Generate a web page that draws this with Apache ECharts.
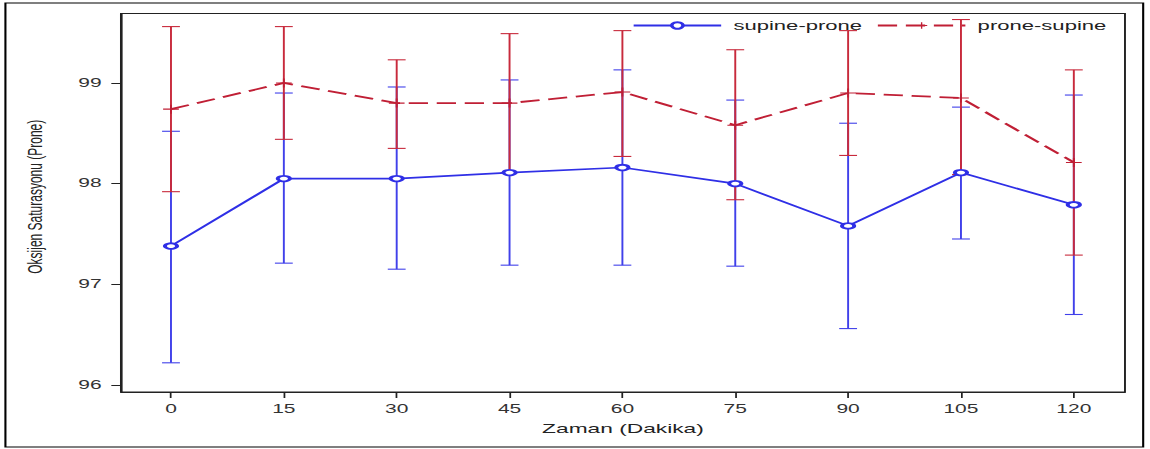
<!DOCTYPE html>
<html>
<head>
<meta charset="utf-8">
<script src="https://cdn.jsdelivr.net/npm/echarts@6/dist/echarts.min.js"></script>
<style>
html,body{margin:0;padding:0;background:#fff;overflow:hidden;width:1150px;height:449px;}
#chart{position:absolute;left:0;top:0;width:657px;height:449px;transform:scaleX(1.7504);transform-origin:0 0;}
</style>
</head>
<body>
<div id="chart"></div>
<script>
// Data
const times = [0, 15, 30, 45, 60, 75, 90, 105, 120];
const tickLabels = [0, 15, 30, 45, 60, 75, 90, 105, 120];
const yTicks = [96, 97, 98, 99];
const spMean = [97.38, 98.05, 98.05, 98.11, 98.16, 98.00, 97.58, 98.11, 97.79];
const spLow  = [96.22, 97.21, 97.15, 97.19, 97.19, 97.18, 96.56, 97.45, 96.70];
const spHigh = [98.52, 98.90, 98.96, 99.03, 99.13, 98.83, 98.60, 98.76, 98.88];
const psMean = [98.74, 99.00, 98.80, 98.80, 98.91, 98.58, 98.90, 98.85, 98.21];
const psLow  = [97.92, 98.44, 98.35, 98.11, 98.27, 97.84, 98.28, 98.09, 97.29];
const psHigh = [99.56, 99.56, 99.23, 99.49, 99.52, 99.33, 99.52, 99.63, 99.13];

const BLUE = '#2f2fe6', BLUE_BAR = '#4040ea';
const RED = '#c01f35', RED_BAR = '#c82a3c';
const FONT = 'Liberation Sans, Arial, sans-serif';

function errRender(color) {
  return function (params, api) {
    const x = api.value(0), lo = api.value(1), hi = api.value(2);
    const p1 = api.coord([x, lo]), p2 = api.coord([x, hi]);
    const w = 5.1;
    const st = {stroke: color, lineWidth: 1.1};
    return {type: 'group', children: [
      {type: 'line', shape: {x1: p1[0], y1: p1[1], x2: p2[0], y2: p2[1]}, style: st},
      {type: 'line', shape: {x1: p1[0] - w, y1: p1[1], x2: p1[0] + w, y2: p1[1]}, style: st},
      {type: 'line', shape: {x1: p2[0] - w, y1: p2[1], x2: p2[0] + w, y2: p2[1]}, style: st}
    ]};
  };
}

const chart = echarts.init(document.getElementById('chart'), null, {renderer: 'svg'});
chart.setOption({
  backgroundColor: '#fff',
  animation: false,
  graphic: [{
    type: 'rect', shape: {x: 3.1, y: 3, width: 650, height: 444},
    style: {fill: 'none', stroke: '#000', lineWidth: 1.2}, z: 100, silent: true
  }],
  grid: {left: 69.1, right: 14.3, top: 13.5, bottom: 57, show: true, borderColor: '#222', borderWidth: 1.1, backgroundColor: '#fff'},
  legend: {
    data: ['supine-prone', 'prone-supine'],
    left: 361, top: 19, padding: 0, itemWidth: 50, itemHeight: 8, itemGap: 8,
    textStyle: {fontFamily: FONT, fontSize: 12.6, color: '#222', padding: [0, 0, 0, 2]}
  },
  xAxis: {
    type: 'value', min: -6.65, max: 126.8,
    name: 'Zaman (Dakika)', nameLocation: 'middle', nameGap: 30,
    nameTextStyle: {fontFamily: FONT, fontSize: 13, color: '#222'},
    axisLine: {show: true, onZero: false, lineStyle: {color: '#222', width: 1.1}},
    axisTick: {show: true, length: 6, customValues: tickLabels, lineStyle: {color: '#222', width: 1}},
    axisLabel: {customValues: tickLabels, margin: 11, fontFamily: FONT, fontSize: 12, color: '#333'},
    splitLine: {show: false}
  },
  yAxis: {
    type: 'value', min: 95.93, max: 99.69,
    name: 'Oksijen Saturasyonu (Prone)', nameLocation: 'middle', nameGap: 43,
    nameTextStyle: {fontFamily: FONT, fontSize: 12, color: '#222', padding: [0, 0, 0, 12]},
    axisLine: {show: true, onZero: false, lineStyle: {color: '#222', width: 1.1}},
    axisTick: {show: true, length: 5.5, customValues: yTicks, lineStyle: {color: '#222', width: 1}},
    axisLabel: {customValues: yTicks, margin: 11, fontFamily: FONT, fontSize: 12, color: '#333'},
    splitLine: {show: false}
  },
  series: [
    {
      name: 'sp-err', type: 'custom', renderItem: errRender(BLUE_BAR), z: 1,
      data: times.map((t, i) => [t, spLow[i], spHigh[i]]), encode: {x: 0, y: [1, 2]}
    },
    {
      name: 'ps-err', type: 'custom', renderItem: errRender(RED_BAR), z: 2,
      data: times.map((t, i) => [t, psLow[i], psHigh[i]]), encode: {x: 0, y: [1, 2]}
    },
    {
      name: 'prone-supine', type: 'line', z: 3,
      data: times.map((t, i) => [t, psMean[i]]),
      lineStyle: {color: RED, width: 1.8, type: [11, 5]},
      itemStyle: {color: RED, borderWidth: 0},
      symbol: 'path://M0,4.4H10V5.6H0ZM4.4,0H5.6V10H4.4Z', symbolSize: 9
    },
    {
      name: 'supine-prone', type: 'line', z: 4,
      data: times.map((t, i) => [t, spMean[i]]),
      lineStyle: {color: BLUE, width: 1.7},
      itemStyle: {color: BLUE, borderColor: BLUE, borderWidth: 0.9},
      symbol: 'emptyCircle', symbolSize: [7, 5.5]
    }
  ]
});
</script>
</body>
</html>
